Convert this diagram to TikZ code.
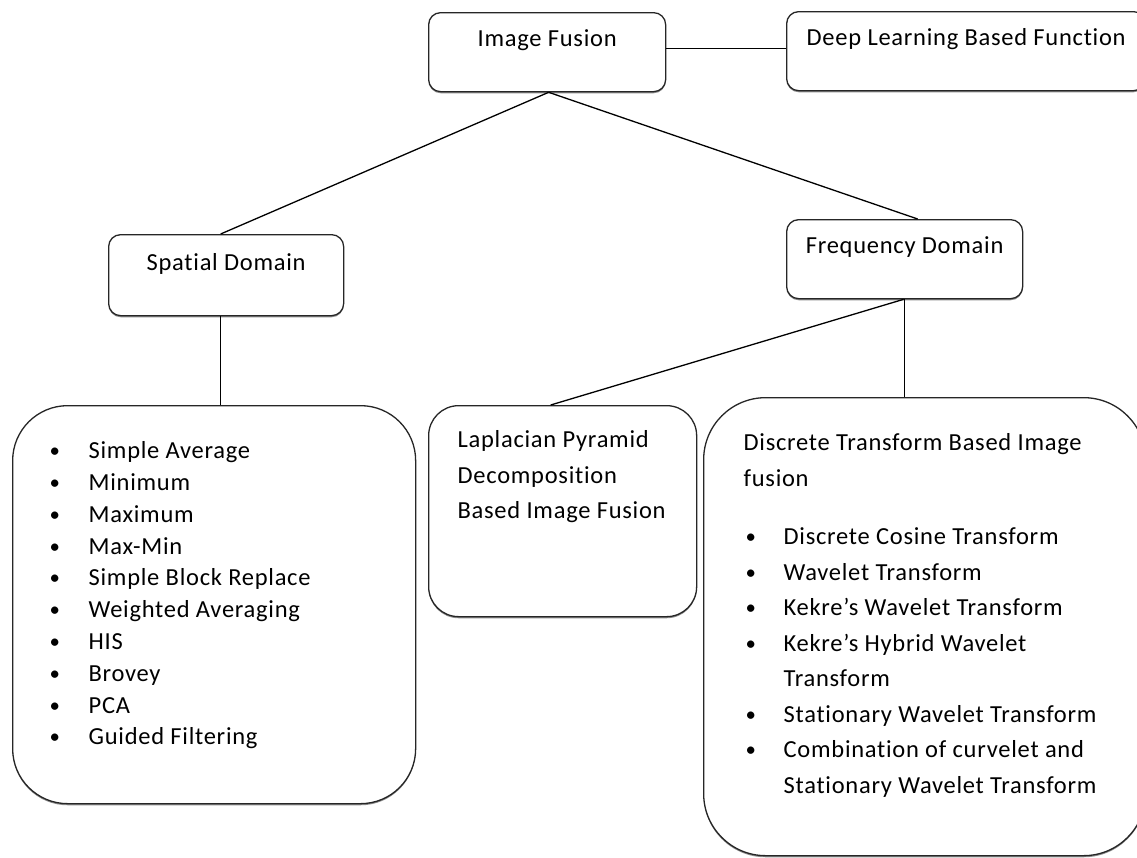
\documentclass[tikz,border=0pt]{standalone}
\usepackage{fontspec}
\setmainfont{Carlito}[LetterSpace=3,Ligatures=NoCommon]
\usetikzlibrary{shadows}
\tikzset{
  box/.style={draw=black!85, line width=1.3pt, fill=white, rounded corners=12pt,
    inner xsep=0pt, inner ysep=0pt, anchor=north west,
    drop shadow={shadow xshift=0pt, shadow yshift=-1.6pt, fill=black!45, opacity=1}},
  bigbox/.style={box, rounded corners=55pt},
  midbox/.style={box, rounded corners=30pt},
  link/.style={draw=black, line width=1.3pt},
  f24/.style={font=\fontsize{24.5}{31.8}\selectfont},
  f24b/.style={font=\fontsize{24.5}{35.5}\selectfont},
}
\newcommand{\bul}{\raisebox{1pt}{\scalebox{0.85}{\textbullet}}}
\begin{document}
\begin{tikzpicture}[x=1pt,y=1pt]
\useasboundingbox (0,0) rectangle (1137,-857);

% top row
\node[box, f24, minimum width=237pt, text height=34pt, text depth=45pt] (imf) at (428,-12) {Image Fusion};
\node[box, f24, minimum width=359pt, text height=34pt, text depth=45pt] (deep) at (786,-11) {Deep Learning Based Function};

% domains
\node[box, f24, minimum width=235pt, text height=36pt, text depth=45pt] (spat) at (108,-234) {Spatial Domain};
\node[box, f24, minimum width=236pt, text height=34pt, text depth=45pt] (freq) at (786,-219) {Frequency Domain};

% spatial list
\node[bigbox, f24, text height=53pt, text depth=345pt] (list) at (12,-405) {%
\makebox[403pt][l]{\hspace{37pt}\begin{tabular}[t]{@{}p{39pt}@{}l@{}}
\bul & Simple Average\\
\bul & Minimum\\
\bul & Maximum\\
\bul & Max-Min\\
\bul & Simple Block Replace\\
\bul & Weighted Averaging\\
\bul & HIS\\
\bul & Brovey\\
\bul & PCA\\
\bul & Guided Filtering
\end{tabular}}};

% laplacian
\node[midbox, f24b, text height=42pt, text depth=169pt] (lap) at (428,-405) {%
\makebox[268pt][l]{\hspace{29pt}\begin{tabular}[t]{@{}l@{}}
Laplacian Pyramid\\
Decomposition\\
Based Image Fusion
\end{tabular}}};

% discrete
\node[bigbox, rounded corners=62pt, f24b, text height=53pt, text depth=405pt] (disc) at (703,-397) {%
\makebox[442pt][l]{\hspace{40pt}\begin{tabular}[t]{@{}p{40pt}@{}l@{}}
\multicolumn{2}{@{}l@{}}{Discrete Transform Based Image}\\
\multicolumn{2}{@{}l@{}}{fusion}\\[23pt]
\hspace{2pt}\bul & Discrete Cosine Transform\\
\hspace{2pt}\bul & Wavelet Transform\\
\hspace{2pt}\bul & Kekre’s Wavelet Transform\\
\hspace{2pt}\bul & Kekre’s Hybrid Wavelet\\
 & Transform\\
\hspace{2pt}\bul & Stationary Wavelet Transform\\
\hspace{2pt}\bul & Combination of curvelet and\\
 & Stationary Wavelet Transform
\end{tabular}}};

% connectors
\draw[link] ([yshift=4pt]imf.east) -- ([yshift=4pt]imf.east -| deep.west);
\draw[link] ([xshift=1.5pt]imf.south) -- ([xshift=-5.5pt]spat.north);
\draw[link] ([xshift=1.5pt]imf.south) -- ([xshift=13pt]freq.north);
\draw[link] ([xshift=-5.5pt]spat.south) -- ([xshift=-5.5pt]spat.south |- list.north);
\draw[link] ([xshift=-1pt]freq.south) -- ([xshift=-12pt]lap.north);
\draw[link] (freq.south) -- (freq.south |- disc.north);
\end{tikzpicture}
\end{document}
